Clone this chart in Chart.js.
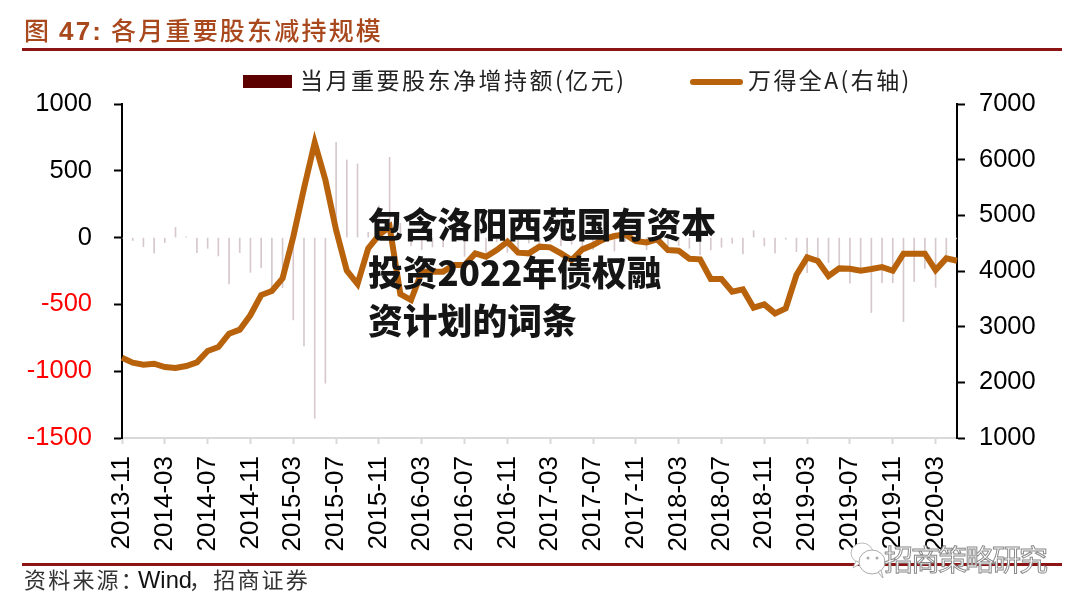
<!DOCTYPE html>
<html>
<head>
<meta charset="utf-8">
<title>各月重要股东减持规模</title>
<script src="https://cdn.jsdelivr.net/npm/chart.js@4"></script>
<style>
  body { margin: 0; background: #fff; }
  #page { position: relative; width: 1080px; height: 605px; overflow: hidden; font-family: "Noto Sans CJK SC", sans-serif; }
  #page div, #page svg { position: absolute; white-space: nowrap; }
  canvas { position: absolute; left: 0; top: 0; }
  .rule { background: #8c1414; height: 3px; }
  .title { left: 24px; top: 11px; font-size: 25px; line-height: 36px; font-weight: 500; color: #a8481c; letter-spacing: 2.2px; }
  .title b { font-family: "Liberation Sans"; font-weight: 700; font-size: 26px; }
  .legend-text { font-size: 23px; line-height: 34px; color: #222; }
  .source { left: 24px; top: 562px; font-size: 22px; line-height: 32px; color: #333; letter-spacing: 2.2px; }
  .source span { font-family: "Liberation Sans"; color: #111; font-size: 23.7px; letter-spacing: 0; margin: 0 -3px 0 -7px; }
  .overlay { left: 368px; font-size: 34.8px; line-height: 47px; font-weight: 900; color: #151515; }
  .mark { left: 884px; top: 538px; font-size: 29px; line-height: 40px; color: #fff; -webkit-text-stroke: 1px #8a8a8a; letter-spacing: -2px; }
</style>
</head>
<body>
<div id="page">
  <canvas id="chart" width="1080" height="605"></canvas>

  <div class="title">图 <b>47:</b> 各月重要股东减持规模</div>
  <div class="rule" style="left:22px;top:48px;width:1040px"></div>

  <div style="left:243px;top:75px;width:49px;height:13px;background:#5c0000"></div>
  <div class="legend-text" style="left:300px;top:62px;letter-spacing:2.5px">当月重要股东净增持额(亿元)</div>
  <div style="left:690px;top:79px;width:53px;height:6px;border-radius:3px;background:#b8620c"></div>
  <div class="legend-text" style="left:748px;top:62px;letter-spacing:2.4px">万得全A(右轴)</div>

  <div class="rule" style="left:22px;top:563px;width:1040px"></div>
  <div class="source">资料来源&#xFF1A;<span>Wind</span>&#xFF0C;招商证券</div>

  <div class="overlay" style="top:200px">包含洛阳西苑国有资本</div>
  <div class="overlay" style="top:248px">投资2022年债权融</div>
  <div class="overlay" style="top:296px">资计划的词条</div>

  <svg style="left:848px;top:540px" width="40" height="40" viewBox="0 0 40 40">
    <ellipse cx="14" cy="13" rx="11" ry="10" fill="#fff" stroke="#bbb"/>
    <path d="M8 21 L5 28 L13 23 Z" fill="#fff" stroke="#bbb"/>
    <ellipse cx="24" cy="22" rx="13" ry="12" fill="#fff" stroke="#aaa"/>
    <path d="M30 32 L35 38 L33 30 Z" fill="#fff" stroke="#aaa"/>
    <circle cx="20" cy="18" r="1.5" fill="#aaa"/>
    <circle cx="29" cy="18" r="1.5" fill="#aaa"/>
  </svg>
  <div class="mark">招商策略研究</div>
</div>

<script>
// monthly categories, 2013-11 to 2020-05
const months = [
  '2013-11','2013-12',
  '2014-01','2014-02','2014-03','2014-04','2014-05','2014-06','2014-07','2014-08','2014-09','2014-10','2014-11','2014-12',
  '2015-01','2015-02','2015-03','2015-04','2015-05','2015-06','2015-07','2015-08','2015-09','2015-10','2015-11','2015-12',
  '2016-01','2016-02','2016-03','2016-04','2016-05','2016-06','2016-07','2016-08','2016-09','2016-10','2016-11','2016-12',
  '2017-01','2017-02','2017-03','2017-04','2017-05','2017-06','2017-07','2017-08','2017-09','2017-10','2017-11','2017-12',
  '2018-01','2018-02','2018-03','2018-04','2018-05','2018-06','2018-07','2018-08','2018-09','2018-10','2018-11','2018-12',
  '2019-01','2019-02','2019-03','2019-04','2019-05','2019-06','2019-07','2019-08','2019-09','2019-10','2019-11','2019-12',
  '2020-01','2020-02','2020-03','2020-04','2020-05'
];

// 当月重要股东净增持额 (left axis)
const netHolding = [
  -5, -22, -67, -117, -37, 77, 7, -112, -80, -137, -347, -112, -260, -225,
  -367, -375, -616, -811, -1352, -1090, 714, 581, 551, 40, 237, 601,
  107, -60, -90, -70, -70, -20, -140, -20, -110, -30, -110, -90,
  -40, -50, -30, -60, -50, -100, -90, -40, -100, -30, -40, -90,
  -40, -60, -60, -80, -130, -92, -72, -42, -122, 52, -62, -117,
  -12, -105, -262, -155, -187, -217, -342, -230, -561, -337, -337, -629,
  -329, -230, -372, -167, -10
];

// 万得全A (right axis)
const windA = [
  2443, 2353, 2317, 2335, 2275, 2257, 2293, 2359, 2562, 2634, 2874, 2946, 3209, 3568,
  3640, 3868, 4616, 5485, 6305, 5634, 4736, 4005, 3766, 4407, 4646, 4796,
  3586, 3479, 3988, 3988, 3988, 4107, 4107, 4317, 4257, 4377, 4526, 4329,
  4317, 4437, 4425, 4317, 4197, 4389, 4467, 4574, 4628, 4658, 4538, 4514,
  4568, 4377, 4365, 4221, 4209, 3856, 3856, 3628, 3670, 3341, 3401, 3239,
  3329, 3928, 4245, 4179, 3910, 4047, 4041, 4005, 4035, 4071, 4005, 4311,
  4311, 4311, 4017, 4227, 4185
];

const xFont = { family: '"Liberation Sans", Arial, sans-serif', size: 26 };
const yFont = { family: '"Liberation Sans", Arial, sans-serif', size: 25.5 };

new Chart(document.getElementById('chart'), {
  data: {
    labels: months,
    datasets: [
      {
        type: 'line',
        label: '万得全A(右轴)',
        data: windA,
        yAxisID: 'y1',
        borderColor: '#b8620c',
        borderWidth: 6,
        pointRadius: 0,
        tension: 0,
        order: 1
      },
      {
        type: 'bar',
        label: '当月重要股东净增持额(亿元)',
        data: netHolding,
        yAxisID: 'y',
        backgroundColor: '#d6c8cb',
        barThickness: 1,
        order: 2
      }
    ]
  },
  options: {
    responsive: false,
    animation: false,
    layout: { padding: { top: 104 } },
    plugins: { legend: { display: false }, tooltip: { enabled: false } },
    scales: {
      x: {
        offset: false,
        afterFit: axis => { axis.height = 167; },
        afterBuildTicks: axis => { axis.ticks = axis.ticks.filter((t, i) => i % 4 === 0); },
        grid: { offset: false, drawOnChartArea: false, color: '#d9d9d9', tickLength: 6, tickWidth: 2 },
        border: { color: '#d9d9d9', width: 2 },
        ticks: { autoSkip: false, minRotation: 90, maxRotation: 90, padding: 12, color: '#000', font: xFont }
      },
      y: {
        position: 'left',
        min: -1500,
        max: 1000,
        afterFit: axis => { axis.width = 122; },
        grid: { drawOnChartArea: false, color: '#000', tickLength: 8, tickWidth: 2 },
        border: { color: '#000', width: 2 },
        ticks: {
          stepSize: 500,
          padding: 22,
          font: yFont,
          callback: v => String(v),
          color: ctx => (ctx.tick.value < 0 ? '#ff0000' : '#000')
        }
      },
      y1: {
        position: 'right',
        min: 1000,
        max: 7000,
        afterFit: axis => { axis.width = 123; },
        grid: { drawOnChartArea: false, color: '#000', tickLength: 8, tickWidth: 2 },
        border: { color: '#000', width: 2 },
        ticks: { stepSize: 1000, padding: 14, color: '#000', font: yFont, callback: v => String(v) }
      }
    }
  }
});
</script>
</body>
</html>
